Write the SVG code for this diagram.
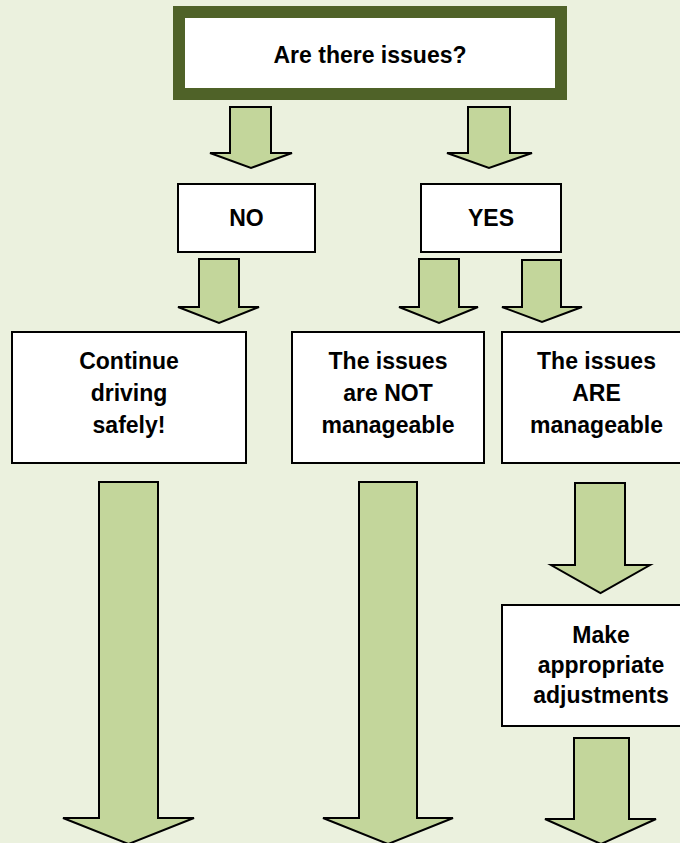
<svg xmlns="http://www.w3.org/2000/svg" width="680" height="843" viewBox="0 0 680 843">
<style>
.bg{fill:#EBF1DE}
.box{fill:#ffffff;stroke:#000000;stroke-width:2}
.top{fill:#ffffff;stroke:#4F6228;stroke-width:12}
.arr{fill:#C3D69B;stroke:#000000;stroke-width:2;stroke-linejoin:miter}
.t{font-family:"Liberation Sans",Arial,sans-serif;font-weight:bold;font-size:23px;fill:#000000;text-anchor:middle}
</style>
<rect class="bg" x="0" y="0" width="680" height="843"/>
<g id="connectors">
<polygon class="arr" points="230,107 271,107 271,153 292,153 251,168 210,153 230,153"/>
<polygon class="arr" points="468,107 510,107 510,153 532,153 489,168 447,153 468,153"/>
<polygon class="arr" points="199,259 239,259 239,307 259,307 219,323 178,307 199,307"/>
<polygon class="arr" points="419,259 459,259 459,307 478,307 439,323 399,307 419,307"/>
<polygon class="arr" points="522,260 561,260 561,307 582,307 542,322 502,307 522,307"/>
<polygon class="arr" points="99,482 158,482 158,818 194,818 128.5,844 63,818 99,818"/>
<polygon class="arr" points="359,482 417,482 417,818 453,818 388,844 323,818 359,818"/>
<polygon class="arr" points="575,483 625,483 625,565 650,565 600.5,593 551,565 575,565"/>
<polygon class="arr" points="574,738 629,738 629,819 656,819 601,844 545,819 574,819"/>
</g>
<g id="n-issues">
<rect class="top" x="179" y="12" width="382" height="82"/>
<text class="t" x="370" y="63">Are there issues?</text>
</g>
<g id="n-no">
<rect class="box" x="178" y="184" width="137" height="68"/>
<text class="t" x="246.5" y="226">NO</text>
</g>
<g id="n-yes">
<rect class="box" x="421" y="184" width="140" height="68"/>
<text class="t" x="491" y="226">YES</text>
</g>
<g id="n-continue">
<rect class="box" x="12" y="332" width="234" height="131"/>
<text class="t" x="129" y="369">Continue</text>
<text class="t" x="129" y="401">driving</text>
<text class="t" x="129" y="433">safely!</text>
</g>
<g id="n-not">
<rect class="box" x="292" y="332" width="192" height="131"/>
<text class="t" x="388" y="369">The issues</text>
<text class="t" x="388" y="401">are NOT</text>
<text class="t" x="388" y="433">manageable</text>
</g>
<g id="n-are">
<rect class="box" x="502" y="332" width="190" height="131"/>
<text class="t" x="596.5" y="369">The issues</text>
<text class="t" x="596.5" y="401">ARE</text>
<text class="t" x="596.5" y="433">manageable</text>
</g>
<g id="n-adjust">
<rect class="box" x="502" y="605" width="198" height="121"/>
<text class="t" x="601" y="643">Make</text>
<text class="t" x="601" y="673">appropriate</text>
<text class="t" x="601" y="703">adjustments</text>
</g>
</svg>
